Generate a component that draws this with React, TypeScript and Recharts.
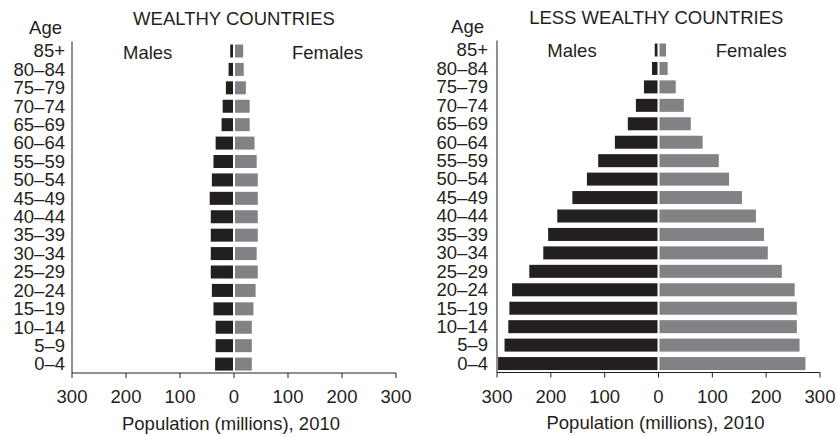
import { BarChart, Bar, XAxis, YAxis } from "recharts";

const AGES = ["85+", "80–84", "75–79", "70–74", "65–69", "60–64", "55–59", "50–54", "45–49", "40–44", "35–39", "30–34", "25–29", "20–24", "15–19", "10–14", "5–9", "0–4"];

// population in millions, 2010
const WEALTHY_MALES = [7, 10, 15, 21, 23, 34, 38, 41, 45, 43, 43, 43, 43, 41, 38, 34, 34, 35];
const WEALTHY_FEMALES = [17, 18, 22, 29, 29, 38, 42, 44, 44, 44, 44, 42, 44, 40, 36, 33, 33, 33];
const LESS_MALES = [7, 12, 27, 42, 57, 81, 112, 133, 160, 188, 205, 214, 240, 272, 277, 279, 286, 298];
const LESS_FEMALES = [14, 17, 32, 47, 60, 82, 112, 131, 155, 181, 196, 203, 229, 253, 257, 257, 262, 273];

const X_TICKS = [-300, -200, -100, 0, 100, 200, 300];

const INK = "#231f20";
const MALE = "#231f20";
const FEMALE = "#808285";
const FONT = "'Liberation Sans', Arial, sans-serif";
const FS = 18.5;

const buildRows = (males, females) =>
    AGES.map((age, i) => ({ age, males: -males[i], females: females[i] }));

// leaves a thin white gap along the zero line
const TrimmedBar = (props) => {
    const { x, y, width, height, fill, side } = props;
    let left = Math.min(x, x + width);
    let w = Math.abs(width);
    if (side === "male") {
        w -= 1;
    } else {
        left += 1;
        w -= 1;
    }
    return <rect x={left} y={y} width={Math.max(w, 0)} height={height} fill={fill} />;
};

const Label = ({ text, left, top, right, center }) => {
    const style: any = {
        position: "absolute",
        top,
        fontSize: FS,
        lineHeight: 1,
        color: INK,
        whiteSpace: "nowrap",
    };
    if (center !== undefined) {
        style.left = center - 200;
        style.width = 400;
        style.textAlign = "center";
    } else if (right !== undefined) {
        style.left = right - 100;
        style.width = 100;
        style.textAlign = "right";
    } else {
        style.left = left;
    }
    return <div style={style}>{text}</div>;
};

const Pyramid = ({ data, left, axisWidth, marginRight, top, bottom, labelGap }) => (
    <div style={{ position: "absolute", left, top: 0 }}>
        <BarChart
            width={419}
            height={436}
            data={data}
            layout="vertical"
            stackOffset="sign"
            barSize={13}
            margin={{ top, right: marginRight, bottom: 436 - bottom - 30, left: 0 }}
        >
            <XAxis
                type="number"
                domain={[-300, 300]}
                ticks={X_TICKS}
                tickFormatter={(v) => String(Math.abs(v))}
                height={30}
                axisLine={{ stroke: INK }}
                tickLine={{ stroke: INK }}
                tickSize={5}
                tickMargin={12}
                tick={{ fill: INK, fontSize: FS, fontFamily: FONT }}
                interval={0}
            />
            <YAxis
                type="category"
                dataKey="age"
                width={axisWidth}
                axisLine={{ stroke: INK }}
                tickLine={false}
                tickSize={0}
                tickMargin={labelGap}
                tick={{ fill: INK, fontSize: FS, fontFamily: FONT }}
                interval={0}
            />
            <Bar
                dataKey="males"
                stackId="pop"
                fill={MALE}
                isAnimationActive={false}
                shape={(p) => <TrimmedBar {...p} side="male" />}
            />
            <Bar
                dataKey="females"
                stackId="pop"
                fill={FEMALE}
                isAnimationActive={false}
                shape={(p) => <TrimmedBar {...p} side="female" />}
            />
        </BarChart>
    </div>
);

export default function App() {
    const wealthy = buildRows(WEALTHY_MALES, WEALTHY_FEMALES);
    const less = buildRows(LESS_MALES, LESS_FEMALES);

    return (
        <div
            style={{
                position: "absolute",
                left: 0,
                top: 0,
                width: 838,
                height: 436,
                background: "#fff",
                fontFamily: FONT,
            }}
        >
            <Pyramid data={wealthy} left={0} axisWidth={72} marginRight={23} top={41.5} bottom={373} labelGap={7} />
            <Pyramid data={less} left={419} axisWidth={78} marginRight={18} top={40.5} bottom={372.5} labelGap={9} />

            <Label text="WEALTHY COUNTRIES" center={234} top={10.3} />
            <Label text="Age" right={62} top={19.3} />
            <Label text="Males" left={123} top={44.3} />
            <Label text="Females" left={292} top={44.3} />
            <Label text="Population (millions), 2010" center={231} top={415.3} />

            <Label text="LESS WEALTHY COUNTRIES" center={656.3} top={9.3} />
            <Label text="Age" right={484} top={17.6} />
            <Label text="Males" left={547.3} top={41.6} />
            <Label text="Females" left={715.7} top={41.6} />
            <Label text="Population (millions), 2010" center={655.5} top={414.3} />
        </div>
    );
}
